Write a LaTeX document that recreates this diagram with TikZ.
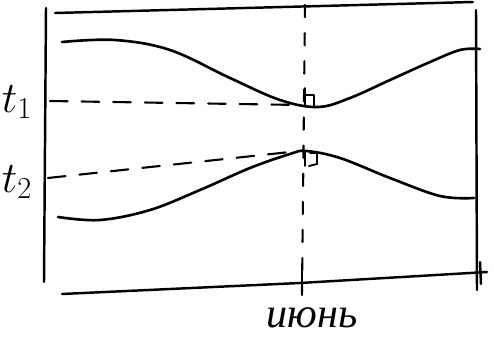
\documentclass[tikz,border=0pt]{standalone}
\usepackage{fontspec}
\setmainfont{Liberation Serif}
\begin{document}
\begin{tikzpicture}[x=0.02cm, y=-0.02cm, line width=1.4pt, line cap=round, line join=round,
    curva/.style={line width=1.5pt, smooth, tension=0.6},
    tratt/.style={line width=1.2pt, dash pattern=on 10pt off 8pt},
    etich/.style={font=\fontsize{26}{26}\selectfont, inner sep=0pt}]
        \useasboundingbox (0,0) rectangle (494,337);

        % Cornice
        \draw (55,13) -- (473,2);
        \draw (46,8) -- (44,282);
        \draw (476,10) -- (477,290);

        % Asse del tempo
        \draw (62,294) -- (300,283) -- (487,272);
        \draw (302,270) -- (302,295);
        \draw (480,262) -- (481,284);

        % Verticale tratteggiata
        \draw[tratt, dash pattern=on 7pt off 9pt] (305,5) -- (302,292);

        % Curva superiore
        \draw[curva] plot coordinates {(62,42) (115,40) (170,50) (230,78) (280,100)
            (318,107) (350,98) (390,80) (430,62) (460,50) (480,49)};

        % Curva inferiore
        \draw[curva] plot coordinates {(58,217) (100,220) (150,210) (200,190) (250,168)
            (290,154) (306,151) (340,158) (390,178) (440,196) (474,198)};

        % Livelli t_1 e t_2
        \draw[tratt] (50,101) -- (300,105);
        \draw[tratt] (48,178) -- (290,152);
        \node[etich] (t1) at (17,102) {$t_1$};
        \node[etich] (t2) at (17,182) {$t_2$};

        % Angoli retti
        \draw[line width=1.1pt] (305,88) -- (305,105);
        \draw[line width=1.1pt] (305,95) -- (314,95) -- (314,106);
        \draw[line width=1.1pt] (305,152) -- (305,166);
        \draw[line width=1.1pt] (310,153) -- (317,153) -- (317,164) -- (309,166);

        % Mese
        \node[etich, font=\fontsize{24}{24}\selectfont\itshape] (mese) at (312,318) {июнь};
    \end{tikzpicture}
\end{document}
